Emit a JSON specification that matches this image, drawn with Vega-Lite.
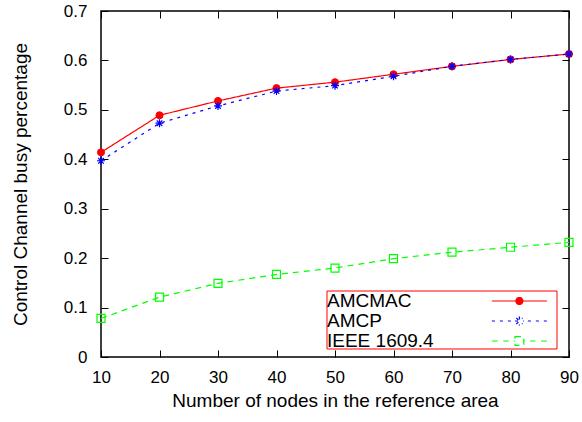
{
  "$schema": "https://vega.github.io/schema/vega-lite/v6.json",
  "width": 468,
  "height": 346,
  "autosize": "none",
  "padding": {"left": 101, "top": 11, "right": 13, "bottom": 65},
  "config": {
    "font": "Liberation Sans",
    "view": {"stroke": "#000000", "strokeWidth": 1.5},
    "axis": {
      "domain": false, "grid": false, "labelFlush": false,
      "tickColor": "#000000", "tickSize": -7, "tickWidth": 1,
      "labelFont": "Liberation Sans", "labelFontSize": 17, "labelColor": "#000000",
      "titleFont": "Liberation Sans", "titleFontSize": 19, "titleFontWeight": "normal", "titleColor": "#000000"
    }
  },
  "data": {"values": [
    {"n": 10, "series": "AMCMAC", "value": 0.414},
    {"n": 20, "series": "AMCMAC", "value": 0.489},
    {"n": 30, "series": "AMCMAC", "value": 0.518},
    {"n": 40, "series": "AMCMAC", "value": 0.544},
    {"n": 50, "series": "AMCMAC", "value": 0.556},
    {"n": 60, "series": "AMCMAC", "value": 0.572},
    {"n": 70, "series": "AMCMAC", "value": 0.588},
    {"n": 80, "series": "AMCMAC", "value": 0.602},
    {"n": 90, "series": "AMCMAC", "value": 0.613},
    {"n": 10, "series": "AMCP", "value": 0.397},
    {"n": 20, "series": "AMCP", "value": 0.473},
    {"n": 30, "series": "AMCP", "value": 0.508},
    {"n": 40, "series": "AMCP", "value": 0.538},
    {"n": 50, "series": "AMCP", "value": 0.549},
    {"n": 60, "series": "AMCP", "value": 0.568},
    {"n": 70, "series": "AMCP", "value": 0.588},
    {"n": 80, "series": "AMCP", "value": 0.602},
    {"n": 90, "series": "AMCP", "value": 0.613},
    {"n": 10, "series": "IEEE 1609.4", "value": 0.078},
    {"n": 20, "series": "IEEE 1609.4", "value": 0.121},
    {"n": 30, "series": "IEEE 1609.4", "value": 0.149},
    {"n": 40, "series": "IEEE 1609.4", "value": 0.167},
    {"n": 50, "series": "IEEE 1609.4", "value": 0.180},
    {"n": 60, "series": "IEEE 1609.4", "value": 0.199},
    {"n": 70, "series": "IEEE 1609.4", "value": 0.212},
    {"n": 80, "series": "IEEE 1609.4", "value": 0.222},
    {"n": 90, "series": "IEEE 1609.4", "value": 0.232}
  ]},
  "layer": [
    {
      "mark": {"type": "line", "strokeWidth": 1.2},
      "encoding": {
        "x": {"field": "n", "type": "quantitative", "scale": {"domain": [10, 90], "nice": false, "zero": false},
              "axis": {"orient": "bottom", "values": [10,20,30,40,50,60,70,80,90], "title": "Number of nodes in the reference area", "labelPadding": 19, "titlePadding": 6}},
        "y": {"field": "value", "type": "quantitative", "scale": {"domain": [0, 0.7], "nice": false, "zero": false},
              "axis": {"orient": "left", "values": [0,0.1,0.2,0.3,0.4,0.5,0.6,0.7], "format": ".1~f", "title": "Control Channel busy percentage", "labelPadding": 21, "titlePadding": 33}},
        "color": {"field": "series", "type": "nominal",
                  "scale": {"domain": ["AMCMAC", "AMCP", "IEEE 1609.4"], "range": ["#ff0000", "#0000ff", "#00ff00"]},
                  "legend": {"title": null, "orient": "none", "legendX": 226, "legendY": 280,
                    "padding": 0,
                    "labelFont": "Liberation Sans", "labelFontSize": 19, "labelColor": "#000000",
                    "symbolSize": 336, "symbolOffset": 0, "labelOffset": -20, "rowPadding": -1,
                    "encode": {
                      "symbols": {"update": {
                      "shape": {"signal": "datum.value === 'AMCMAC' ? 'M16.9,0H22.9M19.52,0A0.38,0.38,0,1,0,20.28,0A0.38,0.38,0,1,0,19.52,0M23.8,0' : datum.value === 'AMCP' ? 'M16.9,0H17.23M17.77,0H18.1M18.64,0H18.97M20.83,0H21.16M21.7,0H22.03M22.57,0H22.9M19.42,0H20.38M19.9,-0.48V0.48M19.56,-0.34L20.24,0.34M19.56,0.34L20.24,-0.34M23.8,0' : 'M16.9,0H17.54M18.15,0H18.74M19.3,0H19.42M20.38,0H20.5M21.06,0H21.65M22.26,0H22.9M19.42,-0.48H20.38V0.48H19.42ZM23.8,0'"},
                      "fill": {"signal": "datum.value === 'AMCMAC' ? '#ff0000' : 'transparent'"},
                      "stroke": {"signal": "datum.value === 'AMCMAC' ? '#ff0000' : datum.value === 'AMCP' ? '#0000ff' : '#00ff00'"},
                      "strokeWidth": {"value": 1.2},
                      "opacity": {"value": 1}
                    }}}}},
        "strokeDash": {"field": "series", "type": "nominal",
                       "scale": {"domain": ["AMCMAC", "AMCP", "IEEE 1609.4"], "range": [[1, 0], [3, 5], [6, 5]]},
                       "legend": null}
      }
    },
    {
      "transform": [{"filter": "datum.series === 'AMCMAC'"}],
      "mark": {"type": "point", "shape": "circle", "size": 50, "filled": true, "fill": "#ff0000", "stroke": "#ff0000", "strokeWidth": 1, "opacity": 1},
      "encoding": {
        "x": {"field": "n", "type": "quantitative",
              "axis": {"orient": "top", "values": [10,20,30,40,50,60,70,80,90], "labels": false, "title": null}},
        "y": {"field": "value", "type": "quantitative",
              "axis": {"orient": "right", "values": [0,0.1,0.2,0.3,0.4,0.5,0.6,0.7], "labels": false, "title": null}}
      }
    },
    {
      "transform": [{"filter": "datum.series === 'AMCP'"}],
      "mark": {"type": "point", "shape": "M-1,0H1M0,-1V1M-0.7,-0.7L0.7,0.7M-0.7,0.7L0.7,-0.7", "size": 64, "filled": false, "stroke": "#0000ff", "strokeWidth": 1.2, "opacity": 1},
      "encoding": {
        "x": {"field": "n", "type": "quantitative", "axis": null},
        "y": {"field": "value", "type": "quantitative", "axis": null}
      }
    },
    {
      "transform": [{"filter": "datum.series === 'IEEE 1609.4'"}],
      "mark": {"type": "point", "shape": "square", "size": 64, "filled": false, "stroke": "#00ff00", "strokeWidth": 1.2, "opacity": 1},
      "encoding": {
        "x": {"field": "n", "type": "quantitative", "axis": null},
        "y": {"field": "value", "type": "quantitative", "axis": null}
      }
    },
    {
      "data": {"values": [{}]},
      "mark": {"type": "rect", "fill": "transparent", "stroke": "#ff0000", "strokeWidth": 1},
      "encoding": {
        "x": {"datum": 48.63, "type": "quantitative", "axis": null},
        "x2": {"datum": 87.95},
        "y": {"datum": 0.1335, "type": "quantitative", "axis": null},
        "y2": {"datum": 0.0162}
      }
    }
  ],
  "resolve": {"axis": {"x": "independent", "y": "independent"}}
}
